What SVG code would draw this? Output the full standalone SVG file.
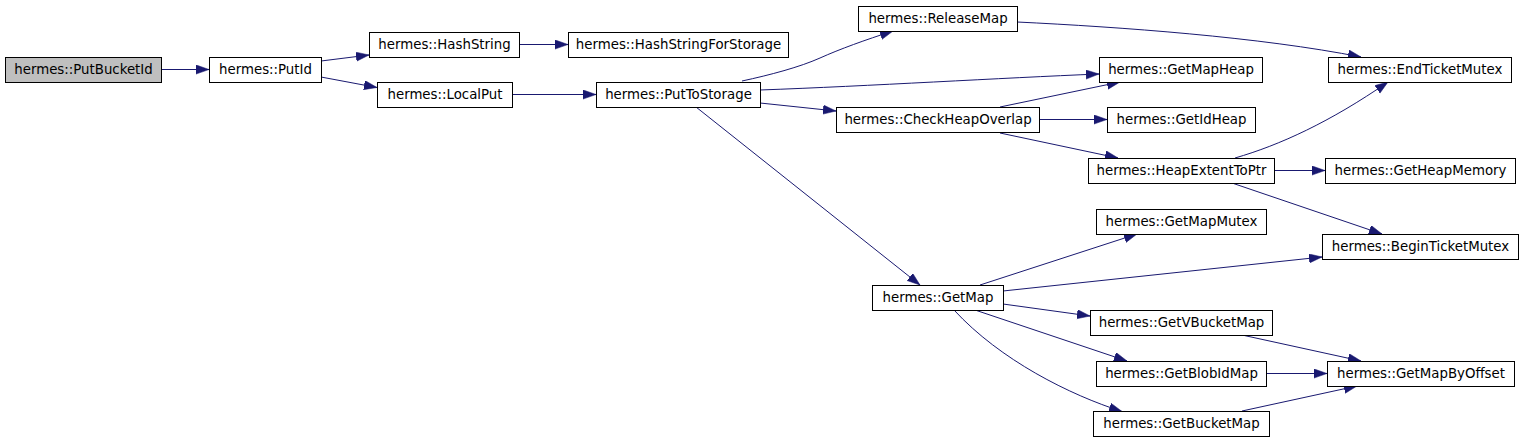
<svg xmlns="http://www.w3.org/2000/svg" width="1524" height="443" viewBox="0 0 1524 443">
<style>
.n rect{fill:#ffffff;stroke:#000000;stroke-width:1}
.n.root rect{fill:#bfbfbf}
.n text{font-family:"DejaVu Sans","Liberation Sans",sans-serif;font-size:13.33px;fill:#000000;text-anchor:middle}
.e path{fill:none;stroke:#191970;stroke-width:1;marker-end:url(#arr)}
</style>
<defs>
<marker id="arr" markerUnits="userSpaceOnUse" markerWidth="14" markerHeight="10" refX="13" refY="4.6" orient="auto">
<path d="M0,0 L13,4.6 L0,9.2 Z" fill="#191970" stroke="#191970" stroke-width="0.5"/>
</marker>
</defs>
<rect width="1524" height="443" fill="#ffffff"/>
<g id="connectors" class="e">
<path d="M161,69.5 L209,69.5"/>
<path d="M321,61 L369,55"/>
<path d="M321,77 L377,87.5"/>
<path d="M520,44.5 L568,44.5"/>
<path d="M512,94.5 L596,94.5"/>
<path d="M742,81 C770,75 800,67 820,58 C840,49 865,40 893,31"/>
<path d="M760,90 C870,86 1000,78 1099,74"/>
<path d="M760,103 L836,111"/>
<path d="M696,107 L920,285"/>
<path d="M1017,22 C1120,27 1260,37 1361,57"/>
<path d="M1000,107 L1120,82"/>
<path d="M1039,119.5 L1107,119.5"/>
<path d="M1000,133 L1118,158"/>
<path d="M1235,158 C1280,145 1330,122 1388,82"/>
<path d="M1274,170.5 L1325,170.5"/>
<path d="M1232,183 L1382,234"/>
<path d="M980,285 L1137,234"/>
<path d="M1003,291 L1322,257"/>
<path d="M1003,304 L1090,316"/>
<path d="M975,310 L1127,361"/>
<path d="M954,310 C1000,360 1070,395 1122,411.5"/>
<path d="M1242,335 L1361,361"/>
<path d="M1266,373.5 L1327,373.5"/>
<path d="M1242,411 L1357,386"/>
</g>
<g id="PutBucketId" class="n root"><rect x="5.5" y="57.5" width="156" height="25"/><text x="83.5" y="74">hermes::PutBucketId</text></g>
<g id="PutId" class="n"><rect x="209.5" y="57.5" width="112" height="25"/><text x="265.5" y="74">hermes::PutId</text></g>
<g id="HashString" class="n"><rect x="369.5" y="32.5" width="150" height="25"/><text x="444.5" y="49">hermes::HashString</text></g>
<g id="LocalPut" class="n"><rect x="377.5" y="82.5" width="135" height="25"/><text x="445" y="99">hermes::LocalPut</text></g>
<g id="HashStringForStorage" class="n"><rect x="568.5" y="32.5" width="220" height="25"/><text x="678.5" y="49">hermes::HashStringForStorage</text></g>
<g id="PutToStorage" class="n"><rect x="596.5" y="82.5" width="164" height="25"/><text x="678.5" y="99">hermes::PutToStorage</text></g>
<g id="ReleaseMap" class="n"><rect x="858.5" y="6.5" width="159" height="25"/><text x="938" y="23">hermes::ReleaseMap</text></g>
<g id="CheckHeapOverlap" class="n"><rect x="836.5" y="107.5" width="203" height="25"/><text x="938" y="124">hermes::CheckHeapOverlap</text></g>
<g id="GetMap" class="n"><rect x="872.5" y="285.5" width="131" height="25"/><text x="938" y="302">hermes::GetMap</text></g>
<g id="GetMapHeap" class="n"><rect x="1099.5" y="57.5" width="163" height="25"/><text x="1181" y="74">hermes::GetMapHeap</text></g>
<g id="GetIdHeap" class="n"><rect x="1107.5" y="107.5" width="148" height="25"/><text x="1181.5" y="124">hermes::GetIdHeap</text></g>
<g id="HeapExtentToPtr" class="n"><rect x="1088.5" y="158.5" width="186" height="25"/><text x="1181.5" y="175">hermes::HeapExtentToPtr</text></g>
<g id="GetMapMutex" class="n"><rect x="1096.5" y="209.5" width="170" height="25"/><text x="1181.5" y="226">hermes::GetMapMutex</text></g>
<g id="GetVBucketMap" class="n"><rect x="1090.5" y="310.5" width="182" height="25"/><text x="1181.5" y="327">hermes::GetVBucketMap</text></g>
<g id="GetBlobIdMap" class="n"><rect x="1096.5" y="361.5" width="170" height="25"/><text x="1181.5" y="378">hermes::GetBlobIdMap</text></g>
<g id="GetBucketMap" class="n"><rect x="1093.5" y="411.5" width="176" height="25"/><text x="1181.5" y="428">hermes::GetBucketMap</text></g>
<g id="EndTicketMutex" class="n"><rect x="1328.5" y="57.5" width="183" height="25"/><text x="1420" y="74">hermes::EndTicketMutex</text></g>
<g id="GetHeapMemory" class="n"><rect x="1325.5" y="158.5" width="190" height="25"/><text x="1420.5" y="175">hermes::GetHeapMemory</text></g>
<g id="BeginTicketMutex" class="n"><rect x="1322.5" y="234.5" width="196" height="25"/><text x="1420.5" y="251">hermes::BeginTicketMutex</text></g>
<g id="GetMapByOffset" class="n"><rect x="1327.5" y="361.5" width="187" height="25"/><text x="1421" y="378">hermes::GetMapByOffset</text></g>
</svg>
